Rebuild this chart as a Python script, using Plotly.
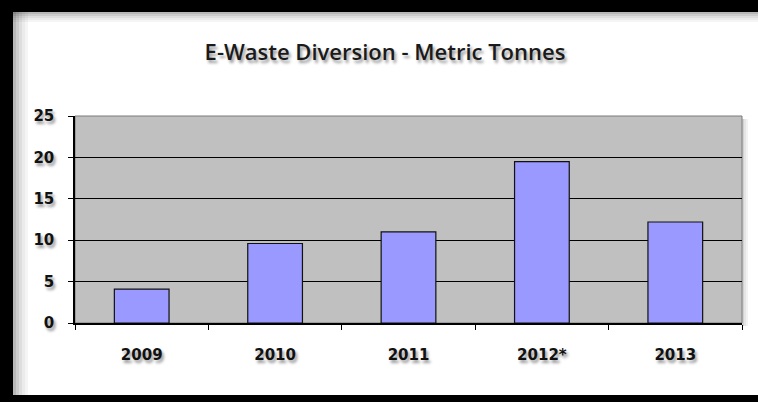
import plotly.graph_objects as go

# E-waste diverted per year, metric tonnes
years = ["2009", "2010", "2011", "2012*", "2013"]
tonnes = [4.1, 9.6, 11.0, 19.5, 12.2]
y_ticks = [0, 5, 10, 15, 20, 25]

W, H = 758, 402
L, R, T, B = 75, 742, 116, 323  # plot area in pixels


def px(x):
    return (x - L) / (R - L)


def py(y):
    return (B - y) / (B - T)


fig = go.Figure(
    go.Bar(
        x=years,
        y=tonnes,
        marker=dict(color="#9999ff", line=dict(color="#111111", width=1.2)),
        width=0.41,
        hoverinfo="x+y",
    )
)

shapes = []
# soft inner shadow along the frame
for i, op in enumerate([0.28, 0.2, 0.13, 0.08, 0.04]):
    shapes.append(dict(type="rect", xref="paper", yref="paper",
                       x0=px(13 + i * 3), x1=px(16 + i * 3), y0=py(395), y1=py(12),
                       line=dict(width=0), fillcolor=f"rgba(0,0,0,{op})", layer="below"))
    shapes.append(dict(type="rect", xref="paper", yref="paper",
                       x0=px(13), x1=px(W), y0=py(12 + (i + 1) * 2), y1=py(12 + i * 2),
                       line=dict(width=0), fillcolor=f"rgba(0,0,0,{op})", layer="below"))
# drop shadow of the plot area
for i, op in enumerate([0.18, 0.1, 0.05]):
    shapes.append(dict(type="rect", xref="paper", yref="paper",
                       x0=px(R + i * 2), x1=px(R + 2 + i * 2), y0=py(B + 3), y1=py(T + 3),
                       line=dict(width=0), fillcolor=f"rgba(0,0,0,{op})", layer="below"))
# plot-area outline
shapes.append(dict(type="rect", xref="paper", yref="paper", x0=0, x1=1, y0=0, y1=1,
                   line=dict(color="#7a7a7a", width=1), layer="below"))
# black frame
frame = "#000000"
shapes += [
    dict(type="rect", xref="paper", yref="paper", x0=px(0), x1=px(W), y0=py(0), y1=py(12),
         line=dict(width=0), fillcolor=frame),
    dict(type="rect", xref="paper", yref="paper", x0=px(0), x1=px(13), y0=py(0), y1=py(H),
         line=dict(width=0), fillcolor=frame),
    dict(type="rect", xref="paper", yref="paper", x0=px(0), x1=px(W), y0=py(395), y1=py(H),
         line=dict(width=0), fillcolor=frame),
]

label_font = dict(family="DejaVu Sans", size=15, color="#111111",
                  weight="bold", shadow="2px 3px 3px rgba(0,0,0,0.4)")

fig.update_layout(
    width=W,
    height=H,
    margin=dict(l=L, r=W - R, t=T, b=H - B, pad=0),
    paper_bgcolor="#ffffff",
    plot_bgcolor="#c0c0c0",
    showlegend=False,
    title=dict(
        text="E-Waste Diversion - Metric Tonnes",
        x=385 / W,
        xanchor="center",
        y=1 - 52 / H,
        yanchor="middle",
        font=dict(family="Open Sans", size=22, color="#1a1a1a", weight=600,
                  shadow="2px 3px 3px rgba(0,0,0,0.4)"),
    ),
    xaxis=dict(
        type="category",
        tickson="boundaries",
        ticks="outside",
        ticklen=5,
        tickcolor="#000000",
        tickwidth=1,
        showline=True,
        linecolor="#000000",
        linewidth=1.5,
        showgrid=False,
        tickfont=label_font,
        ticklabelstandoff=17,
        fixedrange=True,
    ),
    yaxis=dict(
        range=[0, 25],
        tickvals=y_ticks,
        ticks="outside",
        ticklen=5,
        tickcolor="#000000",
        showline=True,
        linecolor="#000000",
        linewidth=1.5,
        showgrid=True,
        gridcolor="#000000",
        gridwidth=1,
        zeroline=False,
        tickfont=label_font,
        ticklabelstandoff=11,
        fixedrange=True,
    ),
    shapes=shapes,
)

fig.write_html("out.html", config={"displayModeBar": False})
